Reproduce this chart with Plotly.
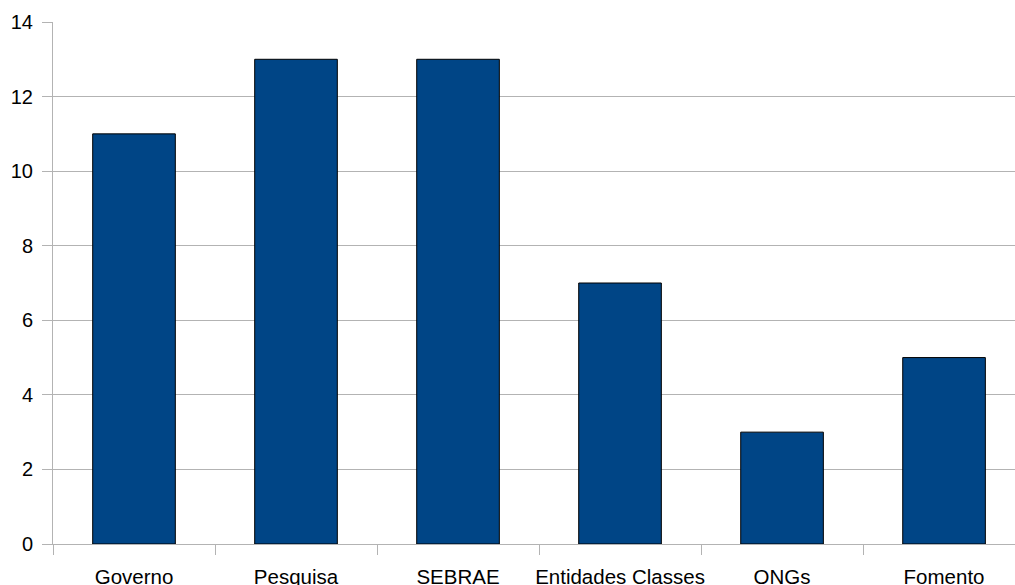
import plotly.graph_objects as go

categories = ["Governo", "Pesquisa", "SEBRAE", "Entidades Classes", "ONGs", "Fomento"]
values = [11, 13, 13, 7, 3, 5]
y_ticks = [0, 2, 4, 6, 8, 10, 12, 14]

fig = go.Figure(go.Bar(
    x=categories, y=values,
    marker=dict(color="#004586", line=dict(color="#000000", width=1)),
    width=0.51,
))

fig.update_layout(
    width=1015, height=585,
    margin=dict(l=53, r=0, t=22, b=41),
    paper_bgcolor="white", plot_bgcolor="white",
    font=dict(family="Liberation Sans, Arial, sans-serif", size=20, color="#000000"),
    showlegend=False,
    bargap=0.49,
)
fig.update_xaxes(
    type="category",
    range=[-0.5, 5.438],
    tickson="boundaries",
    ticks="outside", ticklen=10, tickcolor="#b3b3b3", tickwidth=1,
    showline=True, linecolor="#b3b3b3", linewidth=1,
    showgrid=False,
    tickfont=dict(size=20.5),
    tickangle=0,
    automargin=False,
    ticklabelstandoff=14,
)
fig.update_yaxes(
    range=[0, 14],
    tickvals=y_ticks,
    ticks="outside", ticklen=10, tickcolor="#b3b3b3", tickwidth=1,
    showline=True, linecolor="#b3b3b3", linewidth=1,
    showgrid=True, gridcolor="#b3b3b3", gridwidth=1,
    zeroline=False,
    automargin=False,
    tickfont=dict(size=20),
    ticklabelstandoff=5,
)

fig.write_html("out.html")
